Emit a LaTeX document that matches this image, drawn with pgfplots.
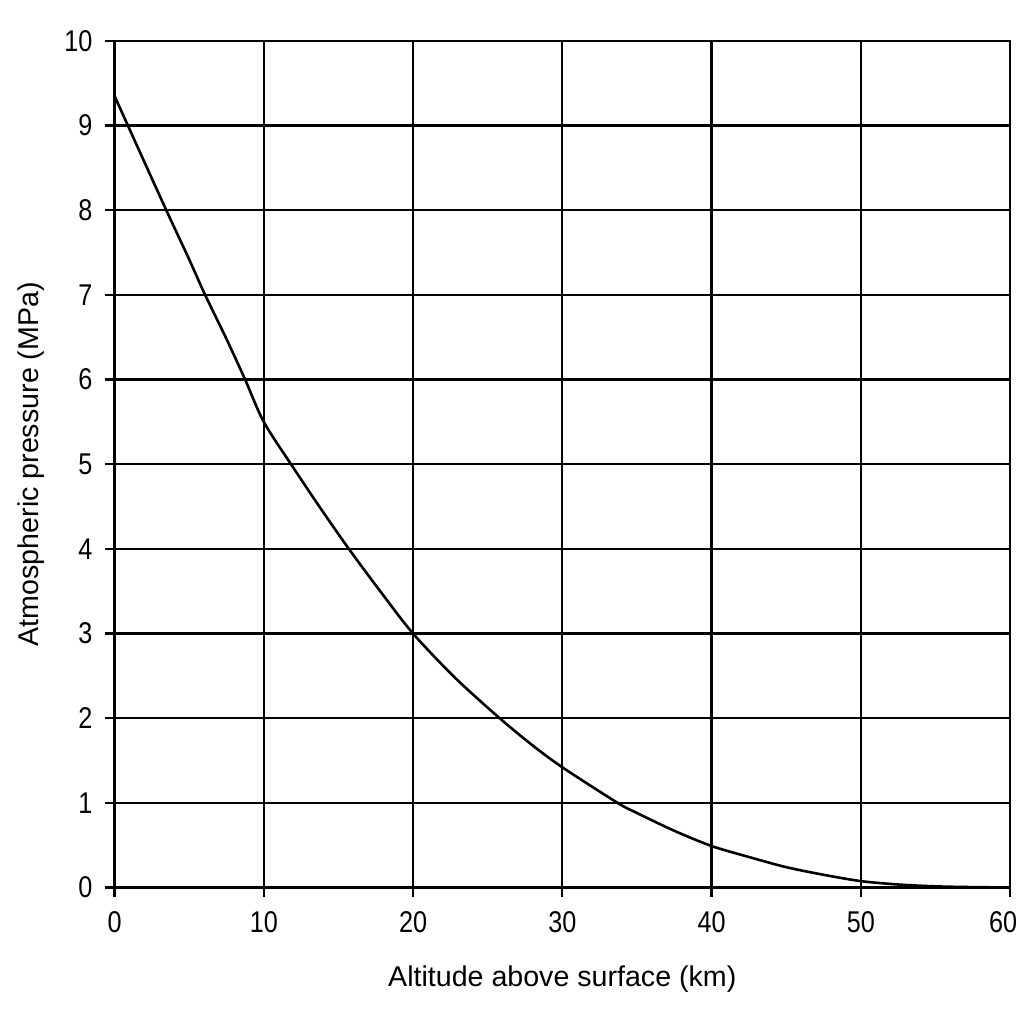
\documentclass[border=0pt]{standalone}
\usepackage{fontspec}
\setmainfont{Liberation Sans}
\newfontfamily\narrowfont{Liberation Sans}[FakeStretch=0.84]
\usepackage{pgfplots}
\pgfplotsset{compat=1.18}
\begin{document}
\begin{tikzpicture}
\begin{axis}[
  scale only axis,
  width=447.75pt, height=423.25pt,
  xmin=0, xmax=60, ymin=0, ymax=10,
  xtick={0,10,...,60}, ytick={0,1,...,10},
  xticklabels={0,10,20,30,40,50,{\hspace*{-7pt}60}},
  xtick pos=bottom, ytick pos=left,
  grid=major,
  grid style={black, line width=1.15pt},
  axis line style={black, line width=1.15pt},
  tick style={black, line width=1.15pt},
  tick align=outside,
  major tick length=5pt,
  /pgf/number format/assume math mode=true,
  ticklabel style={font=\narrowfont\fontsize{15}{16}\selectfont},
  xticklabel style={yshift=-3.5pt},
  yticklabel style={xshift=-2.5pt},
  xlabel={Altitude above surface (km)},
  ylabel={Atmospheric pressure (MPa)},
  label style={font=\fontsize{14.3}{16}\selectfont},
  xlabel style={yshift=-9.5pt},
  ylabel style={yshift=3pt},
  clip=false,
]
\addplot[black, line width=1.3pt, smooth, tension=0.5] coordinates {
(0,9.35) (2,8.57) (3.47,8.0) (5,7.42) (6.07,7.0) (7.5,6.48) (8.75,6.0) (10,5.5)
(11.9,4.98) (13.8,4.48) (15.7,4.0) (17.8,3.5) (20,3.0) (22.8,2.48) (25.8,2.0)
(28,1.68) (30,1.42) (33.7,1.0) (35,0.88) (37.5,0.67) (40,0.49) (42.5,0.36)
(45,0.24) (47.5,0.15) (50,0.075) (52.5,0.035) (55,0.013) (57.5,0.004) (60,0.0)
};
\coordinate (bbl) at (rel axis cs:-0.1279,-0.1613);
\coordinate (btr) at (rel axis cs:1.0156,1.0484);
\end{axis}
\pgfresetboundingbox
\path[use as bounding box] (bbl) rectangle (btr);
\end{tikzpicture}
\end{document}
